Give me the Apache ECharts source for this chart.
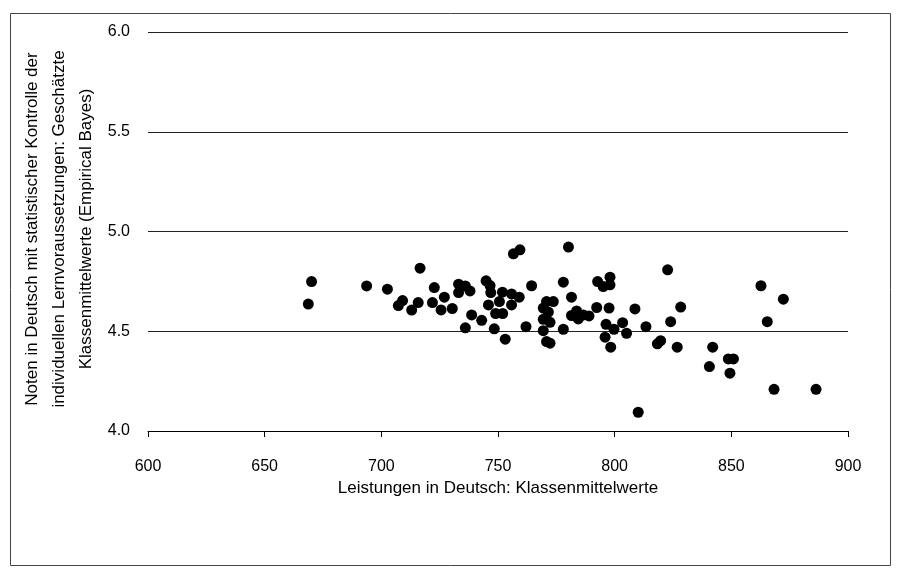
<!DOCTYPE html>
<html>
<head>
<meta charset="utf-8">
<script src="https://cdn.jsdelivr.net/npm/echarts@6/dist/echarts.min.js"></script>
<style>
html,body{margin:0;padding:0;background:#fff;}
#chart{width:904px;height:579px;}
</style>
</head>
<body>
<div id="chart"></div>
<script>
// Data
const leistungen = [668.7,670.1,693.7,702.6,707.3,709.1,713.0,715.8,716.6,721.9,722.7,725.6,727.0,730.4,733.1,733.1,736.0,738.0,736.0,738.7,743.0,744.9,746.6,746.9,745.9,750.6,751.9,749.0,752.0,748.4,753.1,755.8,755.8,756.6,759.4,759.1,762.0,764.4,769.4,770.8,773.7,771.6,769.4,772.3,769.4,770.8,772.3,778.0,778.0,780.2,781.5,781.5,783.7,784.4,786.6,789.0,792.3,792.7,795.1,798.0,798.0,797.6,796.3,795.9,798.3,799.7,803.4,805.1,808.7,810.1,813.4,818.3,819.7,822.7,824.0,828.3,826.8,840.6,842.0,848.7,850.9,849.4,862.7,865.4,868.3,872.3,886.3];
const noten = [4.636,4.749,4.727,4.711,4.629,4.654,4.606,4.644,4.816,4.644,4.719,4.607,4.671,4.614,4.736,4.694,4.727,4.702,4.517,4.582,4.555,4.753,4.729,4.694,4.632,4.649,4.696,4.589,4.589,4.512,4.46,4.687,4.632,4.888,4.908,4.671,4.523,4.728,4.616,4.649,4.649,4.596,4.56,4.545,4.503,4.448,4.44,4.746,4.51,4.922,4.671,4.579,4.602,4.562,4.582,4.577,4.619,4.749,4.724,4.771,4.733,4.616,4.535,4.47,4.42,4.51,4.543,4.49,4.612,4.094,4.523,4.437,4.453,4.808,4.548,4.621,4.42,4.323,4.42,4.361,4.361,4.29,4.728,4.548,4.209,4.661,4.209];
const xTitle = 'Leistungen in Deutsch: Klassenmittelwerte';
const yTitleLines = ['Noten in Deutsch mit statistischer Kontrolle der','individuellen Lernvoraussetzungen: Geschätzte','Klassenmittelwerte (Empirical Bayes)'];

const points = leistungen.map((x, i) => [x, noten[i]]);
const FONT = '"Liberation Sans", "DejaVu Sans", sans-serif';

const chart = echarts.init(document.getElementById('chart'), null, {renderer: 'canvas'});
chart.setOption({
  animation: false,
  backgroundColor: '#fff',
  grid: {left: 148, right: 56, top: 32, bottom: 148, containLabel: false},
  xAxis: {
    type: 'value', min: 600, max: 900, interval: 50,
    name: xTitle, nameLocation: 'middle', nameGap: 46,
    nameTextStyle: {fontFamily: FONT, fontSize: 17, color: '#000'},
    axisLine: {show: true, onZero: false, lineStyle: {color: '#000', width: 1}},
    axisTick: {show: true, inside: false, length: 6, lineStyle: {color: '#000'}},
    axisLabel: {fontFamily: FONT, fontSize: 16, color: '#000', margin: 28},
    splitLine: {show: false}
  },
  yAxis: {
    type: 'value', min: 4.0, max: 6.0, interval: 0.5,
    axisLine: {show: false},
    axisTick: {show: false},
    axisLabel: {fontFamily: FONT, fontSize: 16, color: '#000', margin: 18, formatter: v => v.toFixed(1)},
    splitLine: {show: true, lineStyle: {color: '#222', width: 1}}
  },
  graphic: [
    {type: 'rect', shape: {x: 10.5, y: 13.5, width: 880, height: 552}, style: {fill: 'none', stroke: '#444', lineWidth: 1}, silent: true, z: -10},
    {type: 'text', x: 59, y: 229, rotation: Math.PI / 2,
     style: {text: yTitleLines.join('\n'), font: '17px ' + FONT, fill: '#000', textAlign: 'center', textVerticalAlign: 'middle', lineHeight: 27}}
  ],
  series: [{
    type: 'scatter', data: points, symbol: 'circle', symbolSize: 11,
    itemStyle: {color: '#000', opacity: 1}
  }]
});
</script>
</body>
</html>
